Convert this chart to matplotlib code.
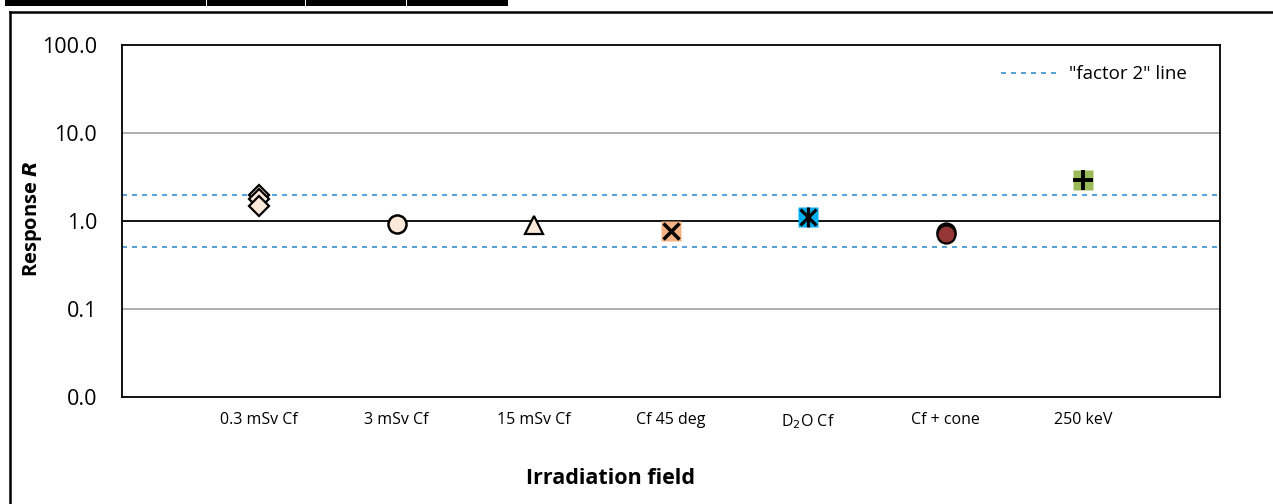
import matplotlib
matplotlib.use("Agg")

import numpy as np
import matplotlib.pyplot as plt
from matplotlib.patches import Rectangle
from matplotlib.lines import Line2D

plt.rcParams["font.family"] = ["Open Sans", "DejaVu Sans"]

# irradiation fields and measured responses
campos = ["0.3 mSv Cf", "3 mSv Cf", "15 mSv Cf", "Cf 45 deg", "D$_2$O Cf", "Cf + cone", "250 keV"]
resp_03 = [2.0, 1.8, 1.5]
resp_3 = [0.92]
resp_15 = [0.90]
resp_45 = [0.76]
resp_d2o = [1.11]
resp_cono = [0.75, 0.71]
resp_250 = [2.9]

y_ticks = [0.01, 0.1, 1, 10, 100]
y_labels = ["0.0", "0.1", "1.0", "10.0", "100.0"]
factor = 2.0

W, H = 1273, 504
fig = plt.figure(figsize=(W / 100, H / 100), dpi=100)

# restos de la tabla de arriba y marco del grafico
for x0, x1 in [(5, 206), (207, 305), (306, 406), (407, 508)]:
    fig.add_artist(Rectangle((x0 / W, 1 - 6 / H), (x1 - x0) / W, 6 / H,
                             transform=fig.transFigure, facecolor="black", edgecolor="none"))
fig.add_artist(Line2D([10 / W, 1], [1 - 12 / H, 1 - 12 / H], transform=fig.transFigure,
                      color="black", linewidth=1.8))
fig.add_artist(Line2D([10 / W, 10 / W], [1 - 12 / H, 0], transform=fig.transFigure,
                      color="black", linewidth=1.8))

ax = fig.add_axes([122 / W, (H - 397) / H, 1098 / W, 352 / H])
ax.set_yscale("log")
ax.set_ylim(0.01, 100)
ax.set_xlim(0, 8)

for v in [0.1, 10]:
    ax.axhline(v, color="#a0a0a0", linewidth=1.2, zorder=1)
ax.axhline(1, color="black", linewidth=1.3, zorder=1)
ax.axhline(factor, color="#3a8fd0", linewidth=1.2, linestyle=(0, (3, 3)), zorder=1)
ax.axhline(1 / factor, color="#3a8fd0", linewidth=1.2, linestyle=(0, (3, 3)), zorder=1)

peach = "#fde9d9"

def pos(i, vals):
    return np.full(len(vals), i + 1)

ax.plot(pos(0, resp_03), resp_03, "D", ms=10, mfc=peach, mec="black", mew=1.6, ls="none", zorder=3)
ax.plot(pos(1, resp_3), resp_3, "o", ms=13, mfc=peach, mec="black", mew=1.8, ls="none", zorder=3)
ax.plot(pos(2, resp_15), resp_15, "^", ms=13, mfc=peach, mec="black", mew=1.6, ls="none", zorder=3)

ax.plot(pos(3, resp_45), resp_45, "s", ms=14, mfc="#f4b183", mec="none", ls="none", zorder=3)
ax.plot(pos(3, resp_45), resp_45, "x", ms=12, mec="black", mew=2.5, ls="none", zorder=4)

ax.plot(pos(4, resp_d2o), resp_d2o, "s", ms=14, mfc="#00b0f0", mec="none", ls="none", zorder=3)
ax.plot(pos(4, resp_d2o), resp_d2o, "x", ms=11, mec="black", mew=2.3, ls="none", zorder=4)
ax.plot(pos(4, resp_d2o), resp_d2o, "|", ms=14, mec="black", mew=2.3, ls="none", zorder=4)

ax.plot(pos(5, resp_cono), resp_cono, "o", ms=13, mfc="#953735", mec="black", mew=1.6, ls="none", zorder=3)

ax.plot(pos(6, resp_250), resp_250, "s", ms=14, mfc="#9bbb59", mec="none", ls="none", zorder=3)
ax.plot(pos(6, resp_250), resp_250, "+", ms=15, mec="black", mew=2.8, ls="none", zorder=4)

ax.set_yticks(y_ticks)
ax.set_yticklabels(y_labels, fontsize=15.5)
ax.yaxis.set_minor_locator(matplotlib.ticker.NullLocator())
ax.set_xticks(range(1, len(campos) + 1))
ax.set_xticklabels(campos, fontsize=11.5)
ax.tick_params(axis="both", length=0)
ax.tick_params(axis="x", pad=11)
ax.tick_params(axis="y", pad=18)

for s in ax.spines.values():
    s.set_color("black")
    s.set_linewidth(1.3)

# titulos de los ejes, colocados a mano en pixeles
fig.text(610 / W, 1 - 478 / H, "Irradiation field", fontsize=15.5, fontweight="bold",
         ha="center", va="center")
fig.text(33 / W, 1 - 219 / H, r"Response $\boldsymbol{R}$", fontsize=14.5, fontweight="bold",
         rotation=90, ha="center", va="center")

leyenda = [Line2D([], [], color="#3a8fd0", linewidth=1.2, linestyle=(0, (3, 3)))]
ax.legend(leyenda, ['"factor 2" line'], loc="upper right", frameon=False, fontsize=13.5,
          handlelength=3.0, handletextpad=0.6, bbox_to_anchor=(0.985, 0.99))

fig.savefig("out.png", dpi=100)
